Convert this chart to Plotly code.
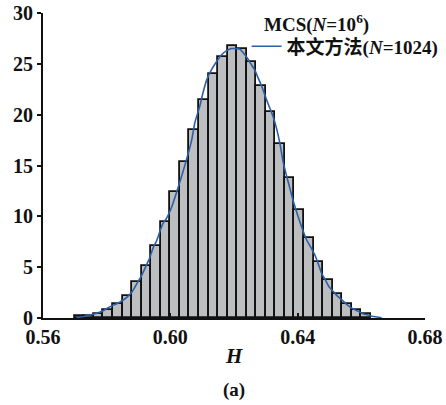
import plotly.graph_objects as go

# Histogram (MCS, N=10^6): bin centres and probability density
bin_start = 0.5715
bin_width = 0.003
mcs_density = [0.15, 0.22, 0.40, 0.75, 1.38, 2.12, 3.54, 5.10, 7.05, 9.44,
               12.39, 15.34, 18.45, 21.45, 24.00, 25.70, 26.72, 26.50, 25.17, 22.82,
               20.23, 17.10, 13.76, 10.60, 7.87, 5.50, 3.70, 2.36, 1.40, 0.82, 0.39]
mcs_h = [round(bin_start + bin_width * i, 4) for i in range(len(mcs_density))]

# Proposed method curve (N=1024)
curve_h = [0.5705, 0.5728, 0.5752, 0.5772, 0.5789, 0.5803, 0.5820, 0.5835, 0.5851, 0.5866,
           0.5878, 0.5888, 0.5899, 0.5910, 0.5925, 0.5935, 0.5946, 0.5957, 0.5967, 0.5977,
           0.5988, 0.6004, 0.6019, 0.6035, 0.6051, 0.6067, 0.6077, 0.6093, 0.6103, 0.6114,
           0.6129, 0.6145, 0.6161, 0.6177, 0.6192, 0.6206, 0.6218, 0.6229, 0.6239, 0.6253,
           0.6265, 0.6276, 0.6287, 0.6302, 0.6313, 0.6323, 0.6334, 0.6344, 0.6354, 0.6365,
           0.6376, 0.6386, 0.6397, 0.6412, 0.6428, 0.6444, 0.6454, 0.6465, 0.6475, 0.6486,
           0.6498, 0.6512, 0.6525, 0.6538, 0.6552, 0.6564, 0.6577, 0.6590, 0.6603, 0.6617,
           0.6633, 0.6649, 0.6664]
curve_pdf = [0.05, 0.15, 0.32, 0.50, 0.72, 0.98, 1.24, 1.45, 1.75, 2.10,
             2.50, 3.00, 3.60, 4.20, 5.20, 5.90, 6.90, 7.60, 8.50, 9.30,
             9.80, 10.90, 12.30, 13.90, 15.60, 17.50, 19.20, 20.90, 22.20, 23.40,
             24.40, 25.20, 25.90, 26.30, 26.50, 26.50, 26.45, 26.10, 25.70, 25.00,
             24.40, 23.60, 22.80, 21.50, 20.60, 19.80, 18.60, 17.20, 15.40, 14.00,
             12.70, 11.50, 10.40, 9.00, 7.70, 6.80, 6.20, 5.30, 4.40, 3.80,
             3.10, 2.60, 2.15, 1.80, 1.40, 1.10, 0.85, 0.65, 0.45, 0.32,
             0.18, 0.10, 0.03]

x_ticks = [0.56, 0.60, 0.64, 0.68]
x_ticktext = ["0.56", "0.60", "0.64", "0.68"]
y_ticks = [0, 5, 10, 15, 20, 25, 30]

FONT = "Liberation Serif, 'Noto Sans CJK SC', serif"
INK = "#111111"

fig = go.Figure()
fig.add_trace(go.Bar(
    x=mcs_h, y=mcs_density, width=bin_width,
    marker=dict(color="#bdbec0", line=dict(color=INK, width=1.8)),
    name="MCS", showlegend=False,
))
fig.add_trace(go.Scatter(
    x=curve_h, y=curve_pdf, mode="lines",
    line=dict(color="#2d5fa8", width=1.6, shape="spline", smoothing=0.6),
    name="本文方法(<i>N</i>=1024)",
))

fig.update_layout(
    width=446, height=405,
    margin=dict(l=43, r=21, t=13, b=87, autoexpand=False),
    paper_bgcolor="white", plot_bgcolor="white",
    font=dict(family=FONT, size=20, color=INK, weight="bold"),
    bargap=0,
    legend=dict(
        x=0.533, y=0.953, xanchor="left", yanchor="top",
        bgcolor="rgba(0,0,0,0)", borderwidth=0,
        font=dict(family=FONT, size=19, color=INK, weight="bold"),
        itemwidth=30, tracegroupgap=0,
    ),
    xaxis=dict(
        range=[0.56, 0.68], tickvals=x_ticks, ticktext=x_ticktext,
        showline=True, linecolor=INK, linewidth=2,
        ticks="inside", ticklen=5, tickcolor=INK, tickwidth=1.5,
        showgrid=False, zeroline=False, automargin=False,
        tickfont=dict(family=FONT, size=20, color=INK, weight="bold"),
    ),
    yaxis=dict(
        range=[0, 30], tickvals=y_ticks,
        showline=True, linecolor=INK, linewidth=2,
        ticks="outside", ticklen=4, tickcolor=INK, tickwidth=1.5,
        showgrid=False, zeroline=False, automargin=False,
        tickfont=dict(family=FONT, size=20, color=INK, weight="bold"),
    ),
    annotations=[
        dict(text="MCS(<i>N</i>=10<sup>6</sup>)", xref="paper", yref="paper",
             x=0.573, y=0.964, showarrow=False, xanchor="left", yanchor="middle",
             font=dict(family=FONT, size=19, color=INK, weight="bold")),
        dict(text="<i>H</i>", xref="paper", yref="paper", x=0.5, y=-0.125,
             showarrow=False, xanchor="center", yanchor="middle",
             font=dict(family=FONT, size=21, color=INK, weight="bold")),
        dict(text="(a)", xref="paper", yref="paper", x=0.5, y=-0.235,
             showarrow=False, xanchor="center", yanchor="middle",
             font=dict(family=FONT, size=19, color=INK, weight="bold")),
    ],
)

fig.write_html("out.html")
